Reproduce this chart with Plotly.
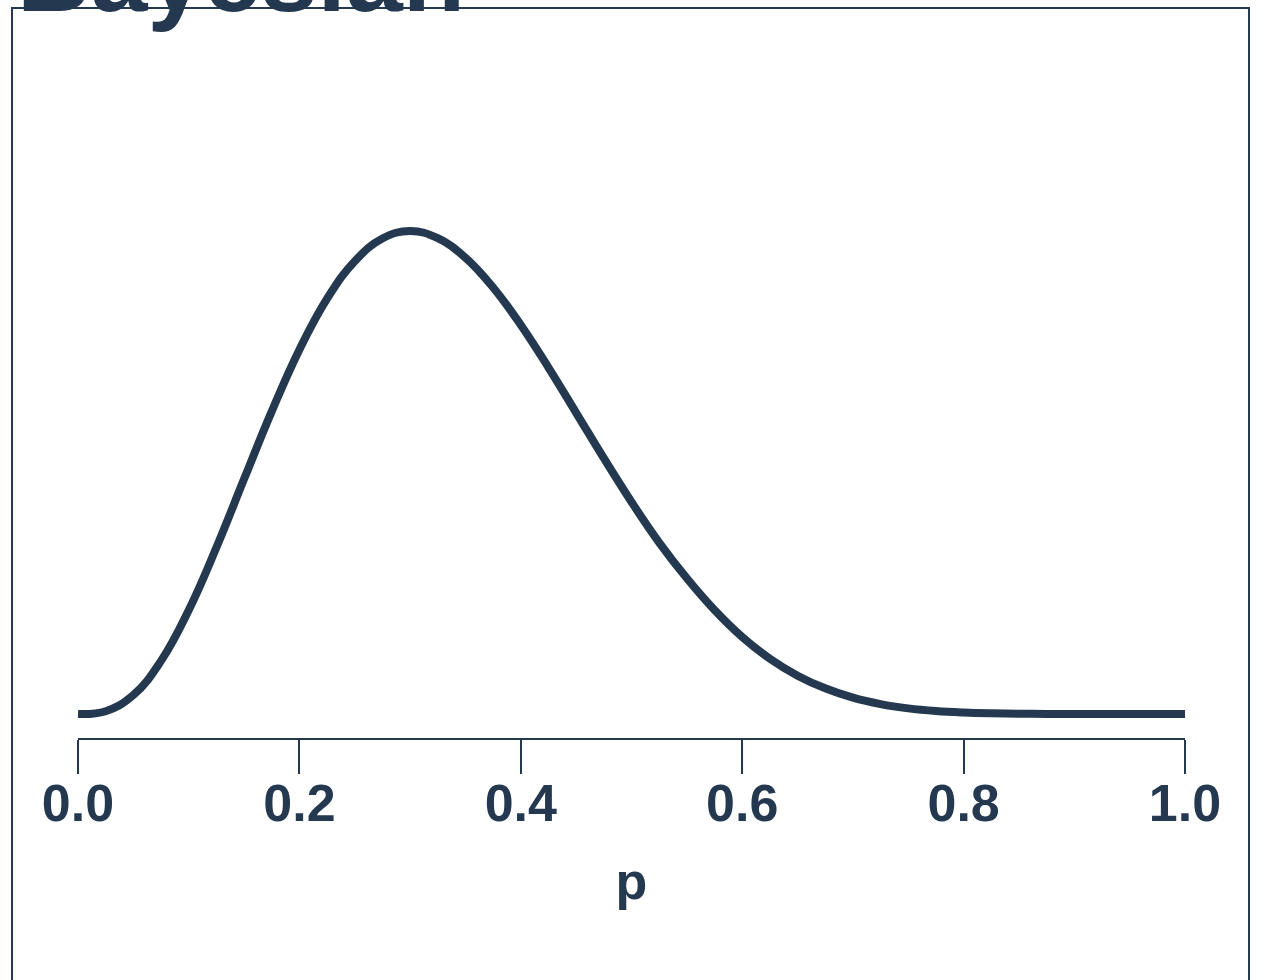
import plotly.graph_objects as go

# Posterior density of p
p_grid = [0.0, 0.025, 0.05, 0.075, 0.1, 0.125, 0.15, 0.175, 0.2, 0.225,
          0.25, 0.275, 0.3, 0.325, 0.35, 0.375, 0.4, 0.425, 0.45, 0.475,
          0.5, 0.525, 0.55, 0.575, 0.6, 0.625, 0.65, 0.675, 0.7, 0.725,
          0.75, 0.775, 0.8, 0.825, 0.85, 0.875, 0.9, 0.925, 0.95, 0.975, 1.0]
density = [0.0, 0.017, 0.115, 0.323, 0.631, 1.012, 1.428, 1.840, 2.215, 2.525,
           2.753, 2.891, 2.936, 2.893, 2.774, 2.593, 2.365, 2.106, 1.831, 1.555,
           1.289, 1.042, 0.825, 0.632, 0.468, 0.336, 0.233, 0.156, 0.099, 0.060,
           0.034, 0.018, 0.009, 0.004, 0.0015, 0.0005, 0.0001, 0.0, 0.0, 0.0, 0.0]

tick_vals = [0.0, 0.2, 0.4, 0.6, 0.8, 1.0]
tick_text = ["0.0", "0.2", "0.4", "0.6", "0.8", "1.0"]

NAVY = "#243950"
FONT = "Liberation Sans, Arial, Helvetica, sans-serif"

fig = go.Figure()
fig.add_trace(go.Scatter(
    x=p_grid, y=density, mode="lines",
    line=dict(color=NAVY, width=8, shape="spline", smoothing=1.2),
    hoverinfo="skip", showlegend=False,
))

# Panel frame
fig.add_shape(type="rect", xref="paper", yref="paper",
              x0=-0.0596, x1=1.0578, y0=-0.40, y1=1.0767,
              line=dict(color=NAVY, width=2), fillcolor="rgba(0,0,0,0)",
              layer="below")

# Panel heading
fig.add_annotation(text="Bayesian", xref="paper", yref="paper",
                   x=-0.0569, y=1.1239, xanchor="left", yanchor="middle",
                   showarrow=False,
                   font=dict(family=FONT, size=102, color=NAVY, weight="bold"))

fig.update_layout(
    width=1265, height=980,
    margin=dict(l=78, r=80, t=60, b=242),
    paper_bgcolor="white", plot_bgcolor="white",
    font=dict(family=FONT, color=NAVY),
    xaxis=dict(
        range=[0, 1], tickvals=tick_vals, ticktext=tick_text,
        ticks="outside", ticklen=34, tickwidth=2, tickcolor=NAVY,
        showline=True, linewidth=2, linecolor=NAVY,
        showgrid=False, zeroline=False,
        ticklabelstandoff=-15,
        tickfont=dict(family=FONT, size=52, color=NAVY, weight="bold"),
        title=dict(text="p", font=dict(family=FONT, size=52, color=NAVY, weight="bold"),
                   standoff=31),
    ),
    yaxis=dict(visible=False, range=[-0.146, 3.976]),
)

fig.write_html("out.html")
